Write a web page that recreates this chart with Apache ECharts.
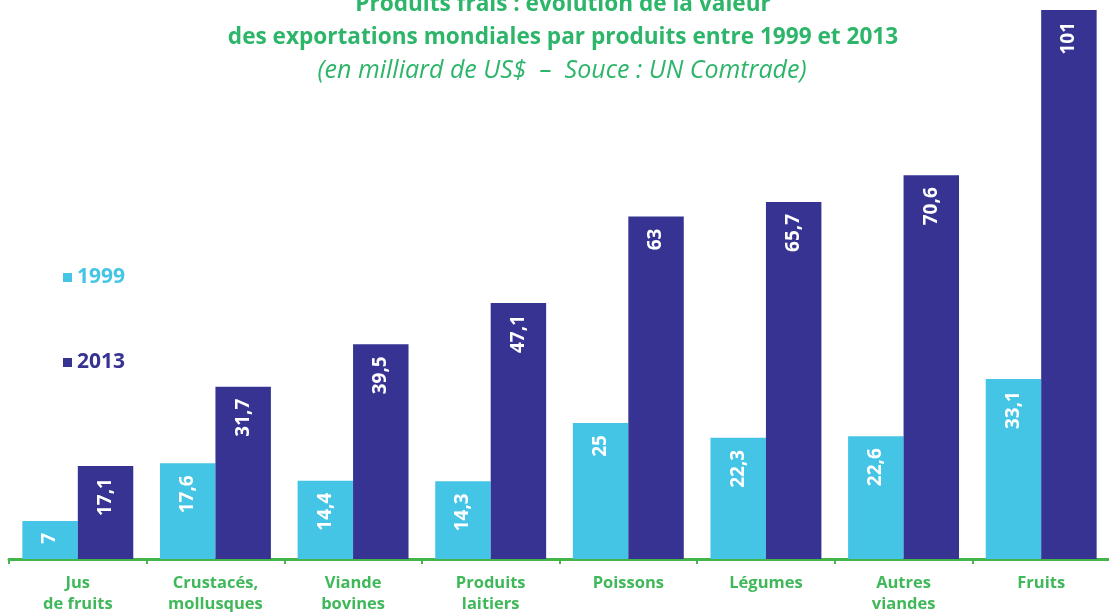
<!DOCTYPE html>
<html>
<head>
<meta charset="utf-8">
<script src="https://cdn.jsdelivr.net/npm/echarts@6/dist/echarts.min.js"></script>
<style>
  html, body { margin: 0; padding: 0; background: #fff; }
  #main { width: 1109px; height: 612px; }
</style>
</head>
<body>
<div id="main"></div>
<script>
var categories = ['Jus\nde fruits', 'Crustacés,\nmollusques', 'Viande\nbovines', 'Produits\nlaitiers',
  'Poissons', 'Légumes', 'Autres\nviandes', 'Fruits'];
var values1999 = [7, 17.6, 14.4, 14.3, 25, 22.3, 22.6, 33.1];
var values2013 = [17.1, 31.7, 39.5, 47.1, 63, 65.7, 70.6, 101];

var cyan = '#45c5e5';
var navy = '#363393';
var green = '#3fb859';
var font = '"Open Sans", "Noto Sans", sans-serif';

var myChart = echarts.init(document.getElementById('main'));

// étiquettes verticales dans les barres
function barLabel() {
  return {
    show: true,
    position: 'insideTop',
    rotate: 90,
    align: 'right',
    verticalAlign: 'middle',
    distance: 12,
    color: '#fff',
    fontWeight: 'bold',
    fontSize: 19,
    fontFamily: font,
    formatter: function (p) { return String(p.value).replace('.', ','); }
  };
}

var option = {
  animation: false,
  title: [
    {
      text: 'Produits frais : évolution de la valeur\ndes exportations mondiales par produits entre 1999 et 2013',
      left: 558, top: -17, textAlign: 'center',
      textStyle: { color: '#2db56a', fontWeight: 'bold', fontSize: 22.6, lineHeight: 33, fontFamily: font }
    },
    {
      text: '(en milliard de US$  –  Souce : UN Comtrade)',
      left: 557, top: 51, textAlign: 'center',
      textStyle: { color: '#2db56a', fontStyle: 'italic', fontWeight: 'normal', fontSize: 25, lineHeight: 30, fontFamily: font }
    }
  ],
  legend: {
    orient: 'vertical',
    left: 58, top: 262,
    itemGap: 64,
    itemWidth: 9, itemHeight: 9,
    icon: 'rect',
    textStyle: { fontWeight: 'bold', fontSize: 21, fontFamily: font },
    data: [
      { name: '1999', textStyle: { color: cyan } },
      { name: '2013', textStyle: { color: navy } }
    ]
  },
  grid: { left: 9, width: 1101, top: 10, bottom: 53, outerBoundsMode: 'none', containLabel: false },
  xAxis: {
    type: 'category',
    data: categories,
    offset: 2,
    axisLine: { lineStyle: { color: '#44b649', width: 3 } },
    axisTick: { show: true, length: 5, lineStyle: { color: '#44b649', width: 2 } },
    axisLabel: {
      interval: 0, margin: 12, color: green, fontWeight: 'bold', fontSize: 16.5,
      lineHeight: 21, fontFamily: font, verticalAlign: 'top'
    }
  },
  yAxis: {
    type: 'value', min: 0, max: 101, show: false, splitLine: { show: false }
  },
  series: [
    {
      name: '1999', type: 'bar', data: values1999,
      barGap: '0%', barCategoryGap: '19.4%',
      itemStyle: { color: cyan },
      label: barLabel()
    },
    {
      name: '2013', type: 'bar', data: values2013,
      barGap: '0%', barCategoryGap: '19.4%',
      itemStyle: { color: navy },
      label: barLabel()
    }
  ]
};

myChart.setOption(option);
</script>
</body>
</html>
